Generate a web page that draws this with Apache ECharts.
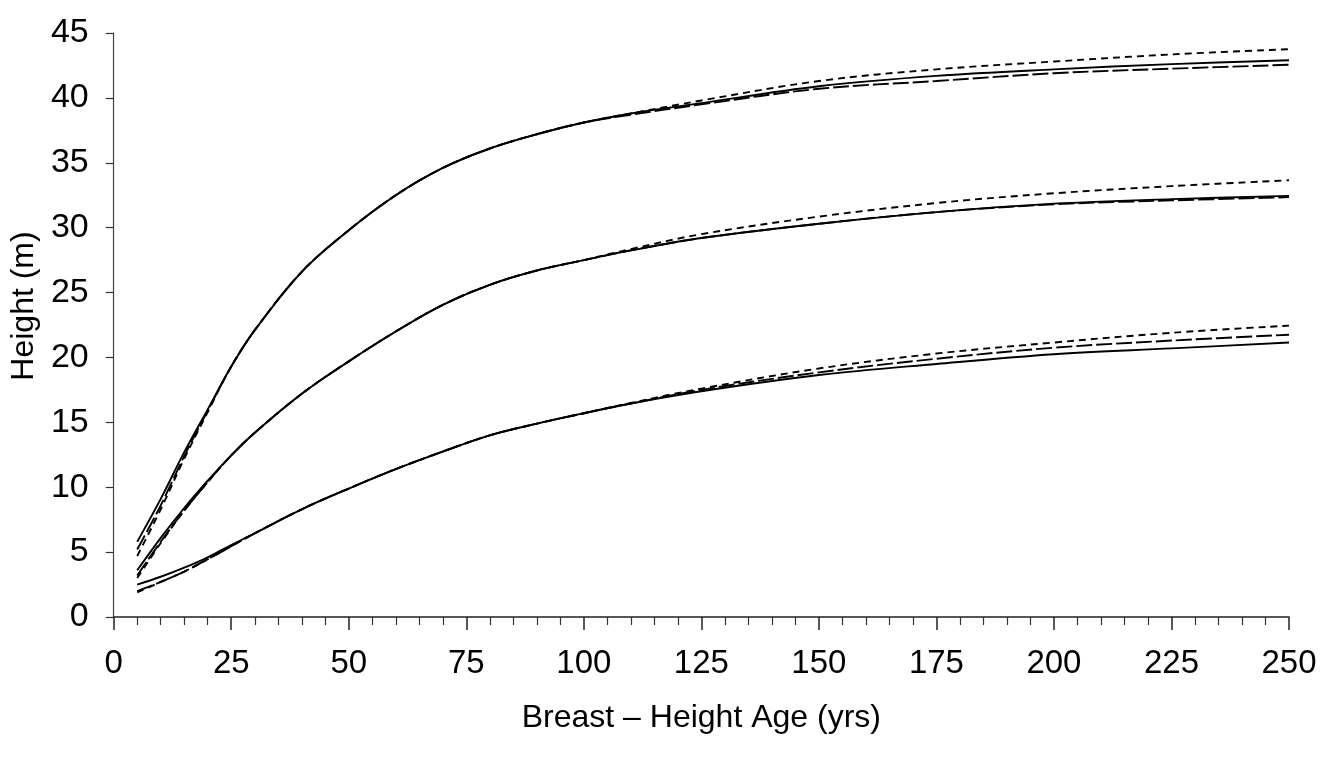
<!DOCTYPE html>
<html>
<head>
<meta charset="utf-8">
<script src="https://cdn.jsdelivr.net/npm/echarts@6/dist/echarts.min.js"></script>
<style>
html,body{margin:0;padding:0;background:#fff;}
#chart{width:1331px;height:769px;}
</style>
</head>
<body>
<div id="chart"></div>
<script>
// Breast-height age (yrs)
const ages = [5, 10, 15, 20, 25, 30, 40, 50, 60, 70, 80, 90, 100, 110, 125, 150, 175, 200, 225, 250];

// High site group
const highSolid  = [5.8, 9.1, 12.7, 16.0, 19.3, 22.1, 26.6, 29.8, 32.5, 34.6, 36.1, 37.2, 38.1, 38.8, 39.6, 40.9, 41.7, 42.2, 42.6, 42.9];
const highLong   = [5.2, 8.6, 12.4, 15.9, 19.3, 22.1, 26.6, 29.8, 32.5, 34.6, 36.1, 37.2, 38.1, 38.7, 39.5, 40.7, 41.3, 41.9, 42.25, 42.55];
const highShort  = [4.7, 8.3, 12.2, 15.8, 19.3, 22.1, 26.6, 29.8, 32.5, 34.6, 36.1, 37.2, 38.1, 38.8, 39.8, 41.3, 42.2, 42.8, 43.35, 43.75];

// Middle site group
const midSolid   = [3.6, 6.1, 8.4, 10.5, 12.45, 14.2, 17.2, 19.7, 22.0, 24.05, 25.6, 26.7, 27.5, 28.25, 29.2, 30.3, 31.2, 31.85, 32.2, 32.45];
const midLong    = [3.2, 5.8, 8.2, 10.4, 12.45, 14.2, 17.2, 19.7, 22.0, 24.05, 25.6, 26.7, 27.5, 28.25, 29.2, 30.3, 31.2, 31.8, 32.1, 32.35];
const midShort   = [3.0, 5.7, 8.2, 10.4, 12.45, 14.2, 17.2, 19.7, 22.0, 24.05, 25.6, 26.7, 27.5, 28.35, 29.5, 30.85, 31.9, 32.65, 33.2, 33.65];

// Low site group
const lowSolid   = [2.5, 3.1, 3.8, 4.6, 5.55, 6.45, 8.3, 9.9, 11.4, 12.75, 14.0, 14.9, 15.7, 16.45, 17.4, 18.65, 19.5, 20.25, 20.7, 21.15];
const lowLong    = [2.0, 2.7, 3.5, 4.45, 5.45, 6.45, 8.3, 9.9, 11.4, 12.75, 14.0, 14.9, 15.7, 16.45, 17.5, 18.85, 19.9, 20.75, 21.3, 21.75];
const lowShort   = [1.9, 2.7, 3.5, 4.45, 5.45, 6.45, 8.3, 9.9, 11.4, 12.75, 14.0, 14.9, 15.7, 16.5, 17.6, 19.15, 20.3, 21.15, 21.9, 22.45];

const xTicks = [0, 25, 50, 75, 100, 125, 150, 175, 200, 225, 250];
const yTicks = [0, 5, 10, 15, 20, 25, 30, 35, 40, 45];

const LONG_DASH = [16, 4];
const SHORT_DASH = [7, 5];

function pairs(vals) { return ages.map((a, i) => [a, vals[i]]); }
function line(name, vals, type) {
  return {
    name: name, type: 'line', data: pairs(vals), smooth: 0.35,
    showSymbol: false, symbol: 'none', animation: false,
    lineStyle: { color: '#000', width: 1.9, type: type }
  };
}

const chart = echarts.init(document.getElementById('chart'), null, { renderer: 'canvas' });
chart.setOption({
  backgroundColor: '#fff',
  animation: false,
  grid: { left: 113, right: 42, top: 33, bottom: 152, containLabel: false },
  xAxis: {
    type: 'value', min: 0, max: 250, interval: 25,
    name: 'Breast – Height Age (yrs)', nameLocation: 'middle', nameGap: 85,
    nameTextStyle: { fontFamily: 'Liberation Sans', fontSize: 32, color: '#000' },
    axisLine: { show: true, lineStyle: { color: '#222', width: 1.5 } },
    axisTick: { show: true, inside: false, length: 13, lineStyle: { color: '#222', width: 1.5 } },
    minorTick: { show: true, splitNumber: 5, length: 8, lineStyle: { color: '#333', width: 1.2 } },
    splitLine: { show: false },
    axisLabel: {
      margin: 30, fontFamily: 'Liberation Sans', fontSize: 33, color: '#000',
      formatter: v => xTicks.includes(v) ? String(v) : ''
    }
  },
  yAxis: {
    type: 'value', min: 0, max: 45, interval: 5,
    name: 'Height (m)', nameLocation: 'middle', nameGap: 67, nameRotate: 90,
    nameTextStyle: { fontFamily: 'Liberation Sans', fontSize: 32, color: '#000', padding: [0, 0, 0, 38] },
    axisLine: { show: true, lineStyle: { color: '#444', width: 1.2 } },
    axisTick: { show: true, inside: false, length: 8, lineStyle: { color: '#333', width: 1.2 } },
    splitLine: { show: false },
    axisLabel: {
      margin: 25, fontFamily: 'Liberation Sans', fontSize: 34, color: '#000',
      formatter: v => yTicks.includes(v) ? String(v) : ''
    }
  },
  series: [
    line('High – solid', highSolid, 'solid'),
    line('High – long dash', highLong, LONG_DASH),
    line('High – short dash', highShort, SHORT_DASH),
    line('Middle – solid', midSolid, 'solid'),
    line('Middle – long dash', midLong, LONG_DASH),
    line('Middle – short dash', midShort, SHORT_DASH),
    line('Low – solid', lowSolid, 'solid'),
    line('Low – long dash', lowLong, LONG_DASH),
    line('Low – short dash', lowShort, SHORT_DASH)
  ]
});
</script>
</body>
</html>
